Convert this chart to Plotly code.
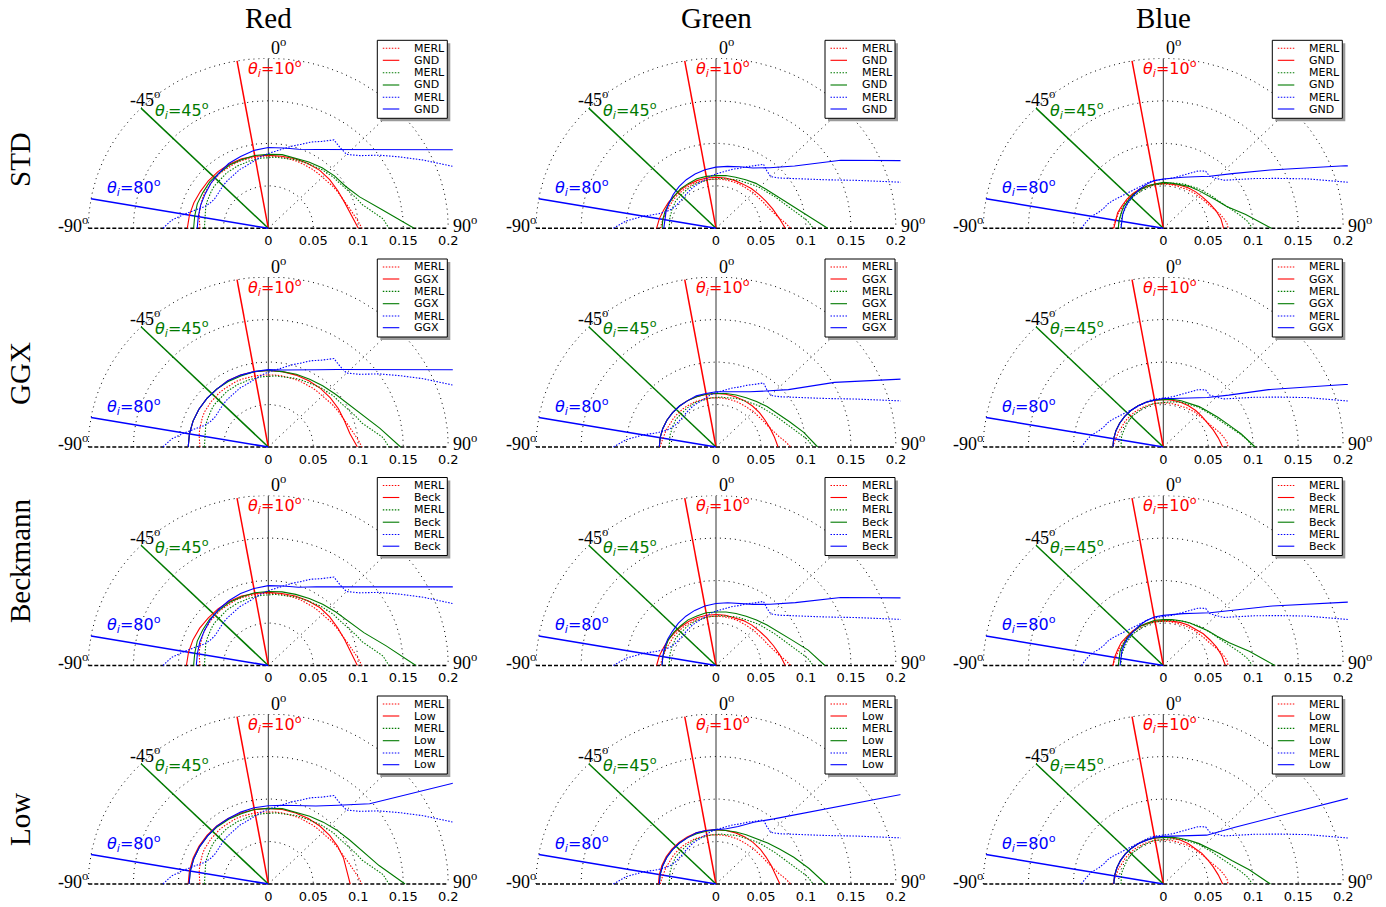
import numpy as np
import plotly.graph_objects as go

FIG_W, FIG_H = 1386, 907

COL_TITLES = ["Red", "Green", "Blue"]
ROW_TITLES = ["STD", "GGX", "Beckmann", "Low"]
FIT_LABELS = ["GND", "GGX", "Beck", "Low"]
THETA_I = [10, 45, 80]
THETA_MERL = list(range(-90, 91, 5))
THETA_FIT = list(range(-90, 91, 10))
R_TICKS = [0, 0.05, 0.1, 0.15, 0.2]
R_TICK_TEXT = ["0", "0.05", "0.1", "0.15", "0.2"]
GRID_R = [0.05, 0.1, 0.15, 0.2]
GRID_SPOKES = [-45, 45]

# ---------------- MERL measurements (theta_o = -90..90 step 5) ----------------
MERL_R_10 = [.076, .077, .078, .079, .080, .081, .082, .082, .083, .083, .084, .084, .084, .085, .085, .085, .085, .085, .085,
             .085, .085, .085, .085, .085, .085, .085, .085, .085, .086, .087, .088, .089, .091, .093, .096, .100, .104]
MERL_R_45 = [.071, .071, .072, .073, .074, .075, .076, .077, .078, .078, .079, .080, .080, .081, .081, .082, .082, .083, .083,
             .084, .084, .085, .086, .087, .088, .089, .091, .092, .094, .095, .097, .100, .104, .108, .117, .128, .134]
MERL_R_80 = [.117, .108, .095, .083, .075, .071, .069, .069, .070, .071, .072, .073, .074, .076, .077, .079, .082, .085, .088,
             .091, .095, .100, .105, .112, .118, .127, .124, .123, .133, .150, .168, .190, .215, .250, .300, .350, .400]

MERL_G_10 = [.062, .061, .060, .059, .059, .058, .058, .058, .058, .058, .058, .058, .058, .058, .058, .058, .058, .058, .058,
             .058, .058, .058, .058, .058, .058, .058, .058, .059, .059, .060, .061, .062, .064, .067, .071, .077, .083]
MERL_G_45 = [.052, .052, .052, .053, .053, .054, .054, .055, .055, .055, .056, .056, .056, .057, .057, .057, .058, .058, .058,
             .059, .059, .060, .061, .062, .063, .064, .066, .068, .070, .072, .075, .078, .082, .087, .094, .102, .108]
MERL_G_80 = [.114, .100, .082, .066, .058, .054, .052, .051, .051, .051, .052, .053, .054, .055, .056, .058, .060, .062, .064,
             .066, .069, .072, .075, .080, .085, .092, .088, .086, .092, .102, .115, .135, .165, .210, .280, .350, .400]

MERL_B_10 = [.056, .055, .054, .053, .053, .052, .052, .052, .052, .052, .052, .052, .052, .052, .052, .052, .052, .052, .052,
             .052, .052, .052, .052, .052, .053, .053, .054, .054, .055, .056, .057, .059, .062, .065, .068, .071, .072]
MERL_B_45 = [.047, .047, .047, .048, .048, .048, .049, .049, .049, .050, .050, .050, .051, .051, .051, .052, .052, .052, .053,
             .053, .054, .055, .056, .057, .058, .059, .061, .062, .064, .066, .068, .071, .075, .080, .087, .094, .099]
MERL_B_80 = [.091, .086, .081, .074, .070, .068, .065, .062, .060, .058, .057, .056, .056, .056, .056, .057, .057, .057, .057,
             .058, .060, .063, .067, .072, .078, .082, .080, .083, .088, .100, .117, .139, .170, .210, .280, .350, .400]

# ---------------- fitted models (theta_o = -90..90 step 10) ----------------
STD_R_10 = [.090, .089, .088, .087, .087, .087, .087, .087, .086, .086, .086, .087, .088, .089, .089, .089, .090, .093, .100]
STD_R_45 = [.083, .083, .084, .084, .085, .085, .086, .086, .087, .087, .088, .088, .090, .093, .096, .099, .108, .128, .162]
STD_R_80 = [.079, .079, .080, .081, .083, .085, .088, .090, .093, .095, .096, .099, .107, .121, .145, .186, .272, .530, .600]
STD_G_10 = [.066, .064, .062, .061, .060, .060, .060, .060, .060, .060, .060, .060, .060, .061, .062, .064, .067, .071, .077]
STD_G_45 = [.060, .060, .060, .060, .060, .061, .061, .062, .062, .062, .063, .064, .066, .069, .072, .077, .085, .100, .124]
STD_G_80 = [.058, .058, .059, .060, .062, .064, .066, .068, .070, .072, .074, .077, .082, .093, .114, .160, .235, .450, .600]
STD_B_10 = [.055, .054, .054, .053, .053, .053, .053, .053, .053, .053, .053, .054, .055, .056, .057, .059, .062, .065, .067]
STD_B_45 = [.050, .050, .050, .051, .051, .052, .052, .053, .053, .054, .054, .055, .057, .059, .062, .067, .075, .093, .120]
STD_B_80 = [.047, .047, .048, .049, .050, .051, .053, .055, .057, .058, .060, .064, .070, .080, .100, .137, .215, .400, .600]

GGX_R_10 = [.089, .089, .089, .089, .089, .089, .090, .090, .090, .090, .090, .090, .090, .090, .090, .090, .090, .092, .099]
GGX_R_45 = [.089, .089, .089, .089, .089, .089, .089, .089, .090, .090, .090, .091, .092, .094, .097, .102, .111, .126, .147]
GGX_R_80 = [.089, .089, .089, .089, .089, .089, .090, .090, .090, .091, .092, .097, .105, .119, .142, .182, .265, .520, .600]
GGX_G_10 = [.063, .063, .063, .063, .063, .063, .063, .063, .063, .063, .063, .063, .063, .063, .063, .063, .064, .066, .069]
GGX_G_45 = [.063, .063, .063, .063, .063, .063, .063, .063, .063, .063, .064, .065, .067, .070, .074, .079, .087, .099, .113]
GGX_G_80 = [.063, .063, .063, .063, .063, .063, .063, .064, .064, .065, .066, .069, .075, .086, .105, .152, .236, .450, .600]
GGX_B_10 = [.056, .056, .056, .056, .056, .056, .056, .056, .056, .056, .056, .056, .056, .056, .056, .057, .059, .062, .066]
GGX_B_45 = [.056, .056, .056, .056, .056, .056, .056, .056, .056, .056, .057, .058, .059, .062, .065, .070, .077, .088, .102]
GGX_B_80 = [.056, .056, .056, .056, .056, .056, .056, .056, .056, .057, .058, .061, .066, .076, .095, .135, .215, .400, .600]

BECK_R_10 = [.091, .090, .089, .088, .087, .087, .087, .087, .086, .086, .086, .087, .088, .089, .089, .089, .090, .093, .099]
BECK_R_45 = [.083, .083, .084, .084, .085, .085, .086, .086, .087, .087, .088, .089, .091, .094, .098, .103, .113, .133, .164]
BECK_R_80 = [.080, .080, .081, .082, .084, .086, .088, .090, .092, .094, .095, .098, .107, .121, .145, .186, .272, .530, .600]
BECK_G_10 = [.066, .064, .062, .061, .060, .060, .060, .060, .060, .060, .060, .060, .061, .062, .063, .065, .068, .072, .077]
BECK_G_45 = [.060, .060, .060, .061, .061, .061, .062, .062, .063, .063, .064, .065, .067, .070, .074, .080, .089, .104, .121]
BECK_G_80 = [.060, .060, .061, .062, .063, .065, .067, .069, .071, .073, .075, .078, .083, .094, .115, .160, .235, .450, .600]
BECK_B_10 = [.056, .055, .054, .054, .053, .053, .053, .053, .053, .053, .053, .054, .055, .056, .058, .060, .063, .066, .069]
BECK_B_45 = [.050, .050, .051, .051, .052, .052, .053, .053, .054, .054, .055, .056, .058, .060, .064, .069, .078, .097, .124]
BECK_B_80 = [.048, .048, .049, .050, .051, .052, .054, .056, .058, .059, .061, .065, .071, .081, .101, .140, .218, .400, .600]

LOW_R_10 = [.089, .089, .089, .089, .089, .089, .089, .089, .089, .089, .089, .089, .089, .089, .089, .089, .089, .089, .091]
LOW_R_45 = [.088, .088, .088, .088, .088, .088, .088, .088, .089, .089, .090, .090, .092, .095, .099, .104, .112, .125, .152]
LOW_R_80 = [.088, .088, .088, .088, .088, .089, .089, .090, .091, .092, .094, .098, .106, .121, .147, .237, .500, .800, .900]
LOW_G_10 = [.064, .064, .064, .064, .064, .064, .064, .064, .064, .064, .064, .064, .064, .064, .064, .064, .065, .067, .071]
LOW_G_45 = [.063, .063, .063, .063, .063, .063, .063, .063, .063, .064, .064, .065, .067, .070, .075, .082, .092, .105, .122]
LOW_G_80 = [.063, .063, .063, .063, .063, .063, .063, .064, .064, .064, .066, .072, .084, .100, .130, .196, .420, .900, .950]
LOW_B_10 = [.055, .055, .055, .055, .055, .055, .055, .055, .055, .055, .055, .055, .055, .055, .056, .057, .059, .062, .066]
LOW_B_45 = [.055, .055, .055, .055, .055, .055, .055, .055, .055, .055, .056, .057, .059, .062, .066, .072, .081, .097, .119]
LOW_B_80 = [.055, .055, .055, .055, .055, .055, .055, .055, .056, .056, .057, .060, .066, .075, .104, .170, .512, .900, .950]

MERL = {
    "Red": [MERL_R_10, MERL_R_45, MERL_R_80],
    "Green": [MERL_G_10, MERL_G_45, MERL_G_80],
    "Blue": [MERL_B_10, MERL_B_45, MERL_B_80],
}
FITS = {
    ("STD", "Red"): [STD_R_10, STD_R_45, STD_R_80],
    ("STD", "Green"): [STD_G_10, STD_G_45, STD_G_80],
    ("STD", "Blue"): [STD_B_10, STD_B_45, STD_B_80],
    ("GGX", "Red"): [GGX_R_10, GGX_R_45, GGX_R_80],
    ("GGX", "Green"): [GGX_G_10, GGX_G_45, GGX_G_80],
    ("GGX", "Blue"): [GGX_B_10, GGX_B_45, GGX_B_80],
    ("Beckmann", "Red"): [BECK_R_10, BECK_R_45, BECK_R_80],
    ("Beckmann", "Green"): [BECK_G_10, BECK_G_45, BECK_G_80],
    ("Beckmann", "Blue"): [BECK_B_10, BECK_B_45, BECK_B_80],
    ("Low", "Red"): [LOW_R_10, LOW_R_45, LOW_R_80],
    ("Low", "Green"): [LOW_G_10, LOW_G_45, LOW_G_80],
    ("Low", "Blue"): [LOW_B_10, LOW_B_45, LOW_B_80],
}

# ---------------- styling / geometry ----------------
COLORS = ["#ff0000", "#007a00", "#0000ff"]
COL_CX = [268.3, 716.0, 1163.3]
ROW_CY = [228.3, 447.0, 665.5, 884.0]
ROW_LABEL_Y = [160, 374, 561, 820]
PX_X, PX_Y = 900.0, 850.0
X_RANGE = [-0.205, 0.205]
Y_RANGE = [-0.0035, 0.2]
SERIF = "Liberation Serif"
SANS = "DejaVu Sans"
PAPER_W = 1380.0  # effective horizontal paper span observed in the rendered page


def polar_xy(theta, r):
    t = np.radians(np.asarray(theta, dtype=float))
    rr = np.asarray(r, dtype=float)
    return rr * np.sin(t), rr * np.cos(t)


def pxx(p):
    return p / PAPER_W


def pxy(p):
    return 1 - p / FIG_H


fig = go.Figure()
axes = {}
annotations = []
shapes = []

phi = np.linspace(-90, 90, 181)
k = 0
for ri, row in enumerate(ROW_TITLES):
    for ci, col in enumerate(COL_TITLES):
        k += 1
        xa = "x" if k == 1 else f"x{k}"
        ya = "y" if k == 1 else f"y{k}"
        cx, cy = COL_CX[ci], ROW_CY[ri]
        axes["xaxis" if k == 1 else f"xaxis{k}"] = dict(
            domain=[pxx(cx + X_RANGE[0] * PX_X), pxx(cx + X_RANGE[1] * PX_X)],
            range=X_RANGE, anchor=ya, tickmode="array", tickvals=R_TICKS, ticktext=R_TICK_TEXT,
            showgrid=False, zeroline=False, showline=False, ticks="",
            tickfont=dict(family=SANS, size=13, color="black"), fixedrange=True)
        axes["yaxis" if k == 1 else f"yaxis{k}"] = dict(
            domain=[pxy(cy - Y_RANGE[0] * PX_Y), pxy(cy - Y_RANGE[1] * PX_Y)],
            range=Y_RANGE, anchor=xa, visible=False, fixedrange=True)
        common = dict(xaxis=xa, yaxis=ya, showlegend=False, hoverinfo="skip", mode="lines")

        # polar grid
        gx, gy = [], []
        for r in GRID_R:
            x, y = polar_xy(phi, np.full_like(phi, r))
            gx += list(x) + [None]
            gy += list(y) + [None]
        for a in GRID_SPOKES:
            x, y = polar_xy([a, a], [0, GRID_R[-1]])
            gx += list(x) + [None]
            gy += list(y) + [None]
        fig.add_trace(go.Scatter(x=gx, y=gy, line=dict(color="black", width=1, dash="1px,4px"), **common))
        x, y = polar_xy([-90, 90], [GRID_R[-1], GRID_R[-1]])
        fig.add_trace(go.Scatter(x=[x[0], 0, x[1]], y=[y[0], 0, y[1]],
                                 line=dict(color="black", width=1.5, dash="4px,2px"), **common))
        x, y = polar_xy([0, 0], [0, GRID_R[-1]])
        fig.add_trace(go.Scatter(x=x, y=y, line=dict(color="#333333", width=1), **common))

        # incident directions
        for i, ti in enumerate(THETA_I):
            x, y = polar_xy([-ti, -ti], [0, GRID_R[-1]])
            fig.add_trace(go.Scatter(x=x, y=y, line=dict(color=COLORS[i], width=1.5), **common))

        # curves
        for i in range(3):
            x, y = polar_xy(THETA_MERL, MERL[col][i])
            fig.add_trace(go.Scatter(x=x, y=y, name="MERL",
                                     line=dict(color=COLORS[i], width=1.1, dash="1.5px,1.5px"), **common))
            x, y = polar_xy(THETA_FIT, FITS[(row, col)][i])
            fig.add_trace(go.Scatter(x=x, y=y, name=FIT_LABELS[ri],
                                     line=dict(color=COLORS[i], width=1.1), **common))

        # angular labels
        lab = dict(xref=xa, yref=ya, showarrow=False, font=dict(family=SERIF, size=18, color="black"))
        annotations.append(dict(text="0<sup>o</sup>", x=0.001, y=0.2, xanchor="left", yanchor="bottom", yshift=-2, **lab))
        annotations.append(dict(text="-45<sup>o</sup>", x=-0.137, y=0.141, xanchor="center", yanchor="bottom", yshift=-4, **lab))
        annotations.append(dict(text="-90<sup>o</sup>", x=-0.198, y=0.0, xanchor="right", yanchor="middle", yshift=4, **lab))
        annotations.append(dict(text="90<sup>o</sup>", x=0.203, y=0.0, xanchor="left", yanchor="middle", yshift=4, **lab))

        # theta_i labels
        tpos = [(-0.025, 0.188), (-0.128, 0.139), (-0.181, 0.048)]
        for i, ti in enumerate(THETA_I):
            annotations.append(dict(text=f"<i>θ</i><sub><i>i</i></sub>={ti}<sup>o</sup>",
                                    x=tpos[i][0], y=tpos[i][1],
                                    xref=xa, yref=ya, xanchor="left", yanchor="middle", showarrow=False,
                                    font=dict(family=SANS, size=16, color=COLORS[i])))

        # legend box
        bx0, bx1, by0, by1 = cx + 109, cx + 179, cy - 188, cy - 110
        shapes.append(dict(type="rect", xref="paper", yref="paper", x0=pxx(bx0 + 3), x1=pxx(bx1 + 3),
                           y0=pxy(by0 + 3), y1=pxy(by1 + 3), fillcolor="#9a9a9a", line=dict(width=0)))
        shapes.append(dict(type="rect", xref="paper", yref="paper", x0=pxx(bx0), x1=pxx(bx1),
                           y0=pxy(by0), y1=pxy(by1), fillcolor="white", line=dict(color="black", width=1)))
        offs = [-180, -168, -155.6, -143.3, -131, -119.3]
        for j in range(6):
            i = j // 2
            dotted = j % 2 == 0
            yy = pxy(cy + offs[j])
            shapes.append(dict(type="line", xref="paper", yref="paper", x0=pxx(cx + 114.5), x1=pxx(cx + 131),
                               y0=yy, y1=yy, line=dict(color=COLORS[i], width=1.1,
                                                       dash="1.5px,1.5px" if dotted else "solid")))
            annotations.append(dict(text="MERL" if dotted else FIT_LABELS[ri], xref="paper", yref="paper",
                                    x=pxx(cx + 144), y=yy, xanchor="left", yanchor="middle", showarrow=False,
                                    font=dict(family=SANS, size=11, color="black")))

for ci, col in enumerate(COL_TITLES):
    annotations.append(dict(text=col, xref="paper", yref="paper", x=pxx(COL_CX[ci]), y=pxy(18),
                            xanchor="center", yanchor="middle", showarrow=False,
                            font=dict(family=SERIF, size=29, color="black")))
for ri, row in enumerate(ROW_TITLES):
    annotations.append(dict(text=row, xref="paper", yref="paper", x=pxx(20), y=pxy(ROW_LABEL_Y[ri]),
                            xanchor="center", yanchor="middle", showarrow=False, textangle=-90,
                            font=dict(family=SERIF, size=29, color="black")))

fig.update_layout(width=FIG_W, height=FIG_H, margin=dict(l=0, r=0, t=0, b=0),
                  paper_bgcolor="white", plot_bgcolor="white", showlegend=False,
                  annotations=annotations, shapes=shapes, **axes)
fig.write_html("out.html")
